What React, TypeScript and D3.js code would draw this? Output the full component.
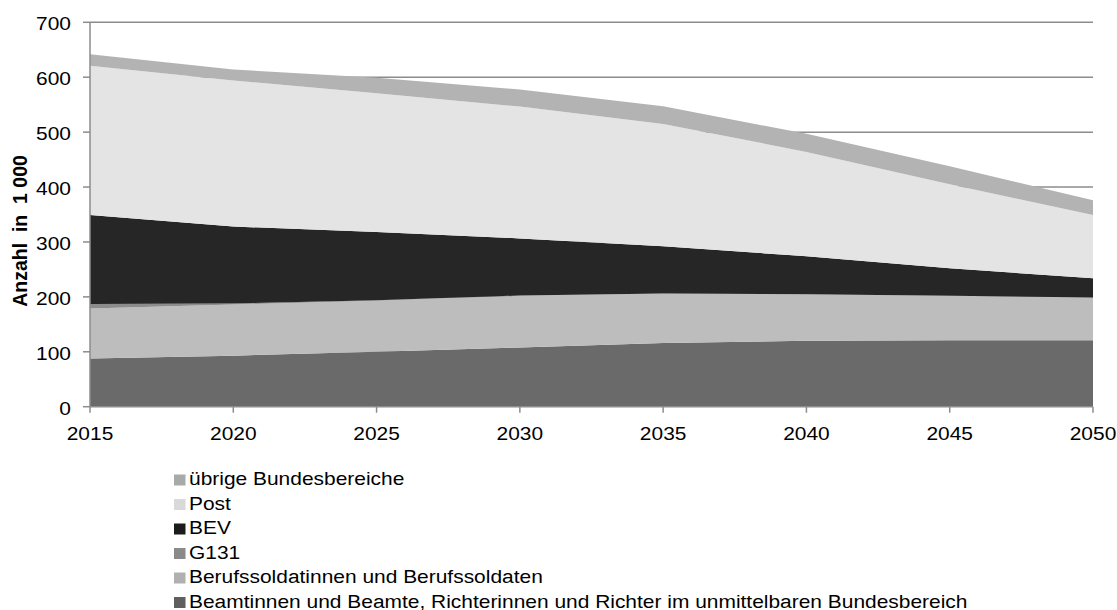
import React from "react";
import * as d3 from "d3";

const years = [2015, 2020, 2025, 2030, 2035, 2040, 2045, 2050];
const beamte = [88, 93, 100, 108, 116, 120, 121, 121];
const soldaten = [91, 93, 93, 94, 90, 85, 81, 78];
const g131 = [8, 2, 1, 0.5, 0, 0, 0, 0];
const bev = [162, 140, 124, 104, 86, 69, 50, 35];
const post = [272, 266, 253, 240, 223, 190, 153, 115];
const uebrige = [21, 20, 28, 31, 32, 33, 33, 27];
const yTicks = [0, 100, 200, 300, 400, 500, 600, 700];

const seriesNames = [
  "Beamtinnen und Beamte, Richterinnen und Richter im unmittelbaren Bundesbereich",
  "Berufssoldatinnen und Berufssoldaten",
  "G131",
  "BEV",
  "Post",
  "übrige Bundesbereiche",
];
const seriesValues = [beamte, soldaten, g131, bev, post, uebrige];
const seriesColors = ["#6a6a6a", "#bdbdbd", "#8c8c8c", "#262626", "#e4e4e4", "#b3b3b3"];
const legendColors = ["#5f5f5f", "#b0b0b0", "#8a8a8a", "#1c1c1c", "#d9d9d9", "#a9a9a9"];

const W = 1117;
const H = 610;
const FONT = "'Liberation Sans', Arial, Helvetica, sans-serif";
const SX = 1.12;

export default function App() {
  const x = d3.scaleLinear().domain([2015, 2050]).range([90, 1093]);
  const y = d3.scaleLinear().domain([0, 700]).range([406.7, 22.3]);

  const rows = years.map((yr, i) => {
    const r: Record<string, number> = { year: yr };
    seriesNames.forEach((n, k) => (r[n] = seriesValues[k][i]));
    return r;
  });
  const stacked = d3.stack<Record<string, number>>().keys(seriesNames)(rows);
  const area = d3
    .area<any>()
    .x((d) => x(d.data.year))
    .y0((d) => y(d[0]))
    .y1((d) => y(d[1]))
    .curve(d3.curveLinear);

  const axisColor = "#8c8c8c";
  const legendOrder = [5, 4, 3, 2, 1, 0];

  return (
    <svg
      width={W}
      height={H}
      style={{ position: "absolute", left: 0, top: 0, display: "block", background: "#fff" }}
      fontFamily={FONT}
    >
      {/* gridlines */}
      {yTicks.filter((t) => t > 0).map((t) => (
        <line key={"g" + t} x1={90} x2={1093} y1={y(t)} y2={y(t)} stroke={axisColor} strokeWidth={1.5} />
      ))}
      {/* areas */}
      {stacked.map((s, k) => (
        <path key={s.key} d={area(s as any) || ""} fill={seriesColors[k]} stroke="none" />
      ))}
      {/* y axis */}
      <line x1={90} x2={90} y1={y(700)} y2={y(0)} stroke={axisColor} strokeWidth={1.5} />
      {yTicks.map((t) => (
        <g key={"yt" + t}>
          <line x1={83} x2={90} y1={y(t)} y2={y(t)} stroke={axisColor} strokeWidth={1.5} />
          <text
            transform={`translate(71,${y(t) + 8}) scale(${SX},1)`}
            textAnchor="end"
            fontSize={18.7}
            fill="#000"
          >
            {t}
          </text>
        </g>
      ))}
      {/* x axis */}
      <line x1={90} x2={1093} y1={y(0)} y2={y(0)} stroke={axisColor} strokeWidth={1.5} />
      {years.map((yr) => (
        <g key={"xt" + yr}>
          <line x1={x(yr)} x2={x(yr)} y1={y(0)} y2={y(0) + 6} stroke={axisColor} strokeWidth={1.5} />
          <text
            transform={`translate(${x(yr)},440) scale(${SX},1)`}
            textAnchor="middle"
            fontSize={18.7}
            fill="#000"
          >
            {yr}
          </text>
        </g>
      ))}
      {/* y title */}
      <text
        transform="translate(27,231) rotate(-90)"
        textAnchor="middle"
        fontSize={19.5}
        fontWeight="bold"
        fill="#000"
        style={{ whiteSpace: "pre" }}
        xmlSpace="preserve"
      >
        {"Anzahl  in  1 000"}
      </text>
      {/* legend */}
      {legendOrder.map((k, i) => {
        const base = 485 + i * 24.5;
        return (
          <g key={"lg" + k}>
            <rect x={174} y={base - 10.5} width={11.5} height={11} fill={legendColors[k]} />
            <text
              transform={`translate(189,${base}) scale(${SX},1)`}
              fontSize={18.7}
              fill="#000"
            >
              {seriesNames[k]}
            </text>
          </g>
        );
      })}
    </svg>
  );
}
